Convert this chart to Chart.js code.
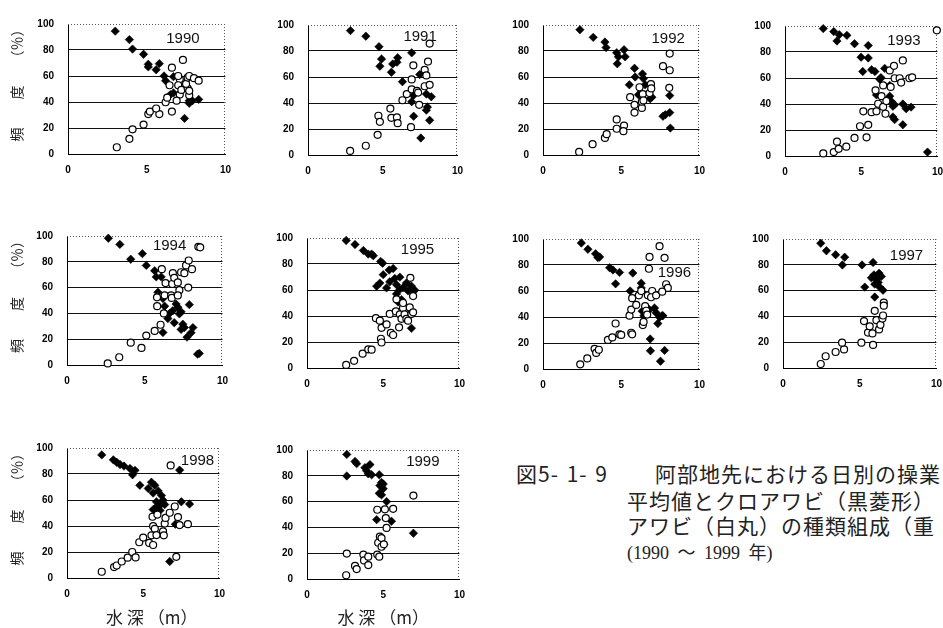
<!DOCTYPE html>
<html lang="ja">
<head>
<meta charset="utf-8">
<title>阿部地先における水深別のアワビ種類組成</title>
<script src="https://cdn.jsdelivr.net/npm/chart.js@4.4.1/dist/chart.umd.min.js"></script>
<style>
  html, body { margin: 0; padding: 0; background: #fff; }
  body { width: 943px; height: 628px; overflow: hidden; position: relative; }
  canvas { position: absolute; }
  .cap { position: absolute; white-space: nowrap; line-height: 1; color: #222;
         font-family: 'Noto Sans CJK JP', sans-serif; font-size: 21px; letter-spacing: 1px; }
  .cap.num { word-spacing: 2px; }
  .cap.yr { font-family: 'Liberation Serif', 'Noto Sans CJK JP', serif; font-size: 18px;
            letter-spacing: 0; word-spacing: 4px; }
</style>
</head>
<body>
<div class="cap num" style="left:516px; top:463px;">図5- 1- 9</div>
<div class="cap" style="left:655px; top:463px;">阿部地先における日別の操業</div>
<div class="cap" style="left:627px; top:490px;">平均値とクロアワビ（黒菱形）</div>
<div class="cap" style="left:627px; top:515px;">アワビ（白丸）の種類組成（重</div>
<div class="cap yr" style="left:627px; top:544px;">(1990 ～ 1999 年)</div>

<script>
// ---- data: [水深 (m), 頻度 (%)] per year ----
const years = ['1990', '1991', '1992', '1993', '1994', '1995', '1996', '1997', '1998', '1999'];
const xTicks = [0, 5, 10];
const yTicks = [0, 20, 40, 60, 80, 100];

// クロアワビ (black diamonds)
const kuro1990 = [[3.0,94.5],[3.9,88],[4.1,80.7],[4.8,76.7],[5.1,69],[5.1,67],[5.8,69.5],[5.6,64.8],[6.1,60],[6.2,56.4],[6.7,59.5],[6.5,45.7],[6.7,47],[7.4,27.4],[7.7,39],[7.9,41],[8.3,42],[7.7,41]];
const kuro1991 = [[2.84,95.7],[3.87,91.4],[4.75,83.3],[4.92,73.8],[4.81,68.3],[5.58,63.6],[5.67,70],[5.95,71.4],[6.0,74.8],[6.94,78.6],[6.32,56.4],[6.94,41],[7.05,45.7],[7.48,61.9],[7.07,29.8],[7.55,13.1],[7.92,46.9],[7.99,36.9],[7.92,34.5],[8.14,26.7],[8.25,44.8]];
const kuro1992 = [[2.36,96.4],[3.21,90.5],[3.96,86.9],[4.03,82.6],[4.71,78.6],[4.82,75.5],[4.75,70.2],[5.18,81],[5.25,75.5],[5.85,66.7],[5.89,60],[5.52,54],[6.36,62.4],[6.42,58.8],[6.1,46.4],[6.85,43.3],[6.96,44.5],[7.67,29.8],[7.82,31],[8.1,32.6],[8.1,45.7],[8.14,20.7],[6.53,54]];
const kuro1993 = [[2.51,98],[3.2,95.7],[3.41,88.5],[3.56,93.3],[4.06,92.8],[4.56,86.4],[5.46,85],[4.99,76],[5.46,75.4],[5.1,65],[5.68,66.3],[5.9,65],[6.54,67.4],[6.29,60.3],[6.22,59],[6.0,47],[6.87,54.3],[6.87,46],[6.98,42],[7.08,38.3],[7.19,39.5],[7.08,30],[7.19,28],[7.73,40],[7.95,36.4],[8.27,37.6],[7.73,24],[9.35,3]];
const kuro1994 = [[2.66,98.3],[3.4,93.5],[4.1,82],[4.85,86.3],[5.1,77.2],[5.64,73.1],[5.74,68.3],[6.06,68.3],[5.85,56.4],[6.17,51.6],[6.28,45.6],[6.17,25.2],[6.49,36],[6.6,40],[6.8,42],[6.9,32.8],[7.13,44.8],[7.23,39.6],[7.34,41.2],[7.02,47.2],[7.45,31.6],[7.34,27.6],[7.55,29],[7.87,46.8],[7.72,21.6],[7.98,25],[8.1,29],[8.4,8.4],[8.51,9]];
const kuro1995 = [[2.57,98.1],[3.15,95],[3.7,90.4],[4.02,87.6],[4.24,87.6],[4.35,86.4],[4.83,82],[4.96,80.6],[5.0,71.8],[5.39,75.4],[5.65,76.5],[4.57,62.9],[4.78,65.3],[5.22,61.6],[5.43,66.3],[5.76,68.9],[5.87,64.1],[6.09,60.5],[6.09,69.9],[6.3,61.7],[6.52,65.3],[6.63,59.3],[6.85,63],[6.96,59.8],[7.07,59.8],[5.87,57],[6.2,52.6],[5.98,50.7],[6.85,30.6]];
const kuro1996 = [[2.45,96.9],[2.87,92.1],[3.36,88.6],[3.51,85.7],[3.62,86.2],[4.26,77.9],[4.47,76.2],[4.89,74.3],[5.74,73.8],[4.64,65.5],[5.57,60],[6.28,66],[6.28,62.4],[6.34,44.5],[6.45,41],[6.81,45.7],[7.13,46.9],[7.23,43.3],[7.45,39.8],[7.62,41],[7.34,35],[7.66,41],[6.85,23.1],[6.87,14],[7.77,14.3],[7.51,6]];
const kuro1997 = [[2.46,96.7],[2.83,90.9],[3.43,87.8],[4.02,85.9],[3.87,79.9],[5.15,79.9],[5.87,81.8],[5.33,62.7],[5.76,69.9],[5.93,72.2],[6.09,68.7],[6.26,73.4],[6.2,66.3],[6.41,71],[5.98,55],[6.3,62.7],[6.52,60.3],[5.98,65]];
const kuro1998 = [[2.28,94.7],[3.04,90.9],[3.26,89],[3.48,87.3],[3.74,86.1],[4.13,84.2],[4.3,79.4],[4.46,82.8],[4.78,71.3],[5.33,68.9],[5.54,73.7],[5.76,71.3],[5.65,65.3],[5.98,67],[6.2,63.4],[5.87,58.6],[5.65,52.6],[6.3,59.8],[6.41,56.5],[7.39,83],[7.5,58.6],[8.04,56.9],[7.11,41.4],[6.74,12.7],[5.9,55],[6.1,52],[6.2,57]];
const kuro1999 = [[2.61,96.6],[3.15,91.1],[3.26,89.4],[2.61,79.9],[3.8,86.3],[3.91,83.9],[4.02,81.5],[4.13,88.7],[4.24,80.8],[4.74,80.8],[4.78,72.4],[4.89,74.8],[5.0,73.6],[4.74,66.4],[4.89,65.2],[5.22,60],[4.57,46],[5.54,44.8],[6.98,35.5],[5.0,70],[5.05,27]];

// 白丸 (open circles)
const shiro1990 = [[3.1,5.2],[3.9,11.7],[4.1,19],[4.8,22.6],[5.1,30.7],[5.2,32.6],[5.8,30.7],[5.6,35],[6.2,39.8],[6.3,43.3],[6.6,32.6],[6.6,66.4],[7.3,72.4],[7.1,57.6],[7.0,52.9],[7.1,45.7],[6.9,41],[7.2,49.3],[7.6,50.5],[7.7,45.2],[7.5,54],[7.6,58.8],[7.7,60],[8.0,58.3],[8.3,56.4],[7.0,60],[7.7,48.6],[6.45,52.9]];
const shiro1991 = [[2.82,3.1],[3.87,7.1],[4.66,15.5],[4.71,30.2],[4.81,25.5],[5.51,35.7],[5.58,28.6],[5.95,29],[6.0,24.5],[6.32,42.1],[6.61,46.9],[6.94,50.5],[6.94,58.1],[7.05,69],[6.89,21.4],[7.29,49.3],[7.44,38.6],[8.14,85.7],[8.03,71.9],[7.81,65.5],[7.92,61.2],[7.81,52.9],[8.14,54],[7.37,48]];
const shiro1992 = [[2.31,2.4],[3.17,8.3],[3.96,13.1],[4.07,16],[4.71,27.4],[4.71,20.2],[5.18,22.6],[5.14,18.3],[5.57,44.5],[5.85,38.6],[5.85,32.6],[6.17,52.1],[6.32,36.2],[6.32,41],[6.38,46.9],[6.42,42],[6.9,54.5],[6.81,47.6],[6.92,51.2],[7.67,68.3],[8.1,78],[8.1,65.2],[8.07,51.7]];
const shiro1993 = [[2.51,2],[3.2,3],[3.41,11],[3.52,5.5],[4.02,7.2],[4.56,13.9],[4.92,22.9],[5.46,24],[5.35,14.4],[5.14,34.4],[5.68,33.7],[6.0,34.4],[6.11,40.2],[6.44,37.8],[6.59,32.5],[5.94,50.5],[6.33,46],[6.44,54.3],[6.65,42.3],[6.93,53.1],[6.87,65.8],[7.15,69.4],[7.19,59.8],[7.52,59.8],[7.73,73.5],[7.62,56.5],[8.16,59.8],[8.34,60.5],[9.96,96.7]];
const shiro1994 = [[2.62,1.2],[3.36,6],[4.1,17.3],[4.79,13.2],[5.1,22.8],[5.64,26.4],[5.79,52.5],[5.8,45.6],[6.02,31.2],[6.1,74.3],[6.23,40],[6.28,54],[6.34,63.5],[6.7,54],[6.74,52],[6.77,62.8],[6.81,71.2],[6.9,67.6],[7.13,64],[7.23,58],[7.13,53.9],[7.34,71.9],[7.55,71.2],[7.66,77.2],[7.83,81],[7.8,60],[8.04,74.3],[8.45,91.6],[8.57,91.2]];
const shiro1995 = [[2.57,2.4],[3.09,5.5],[3.65,11],[4.02,14.4],[4.24,14.1],[4.52,38.3],[4.78,36.4],[4.89,30.9],[4.85,22.5],[4.89,19.6],[5.22,33.5],[5.43,41.6],[5.5,27],[5.65,25.4],[5.87,52.8],[5.83,43.5],[6.09,41.3],[6.04,31.3],[6.2,37.8],[6.3,46.2],[6.3,50],[6.4,41.3],[6.52,37.8],[6.78,69.4],[6.74,46.6],[6.85,41.6],[6.96,42.8],[6.63,36.4],[6.96,55.3]];
const shiro1996 = [[2.38,3.6],[2.83,8.1],[3.3,15.5],[3.4,12.4],[3.57,14.8],[4.15,22.4],[4.43,24.3],[4.64,35],[4.89,26.7],[5.0,26.2],[5.64,27.9],[5.7,26.7],[5.53,41],[5.64,45.7],[5.7,54.5],[5.96,49.3],[6.13,56.7],[6.28,60],[6.38,33.8],[6.43,36.2],[6.53,48.3],[6.6,44.8],[6.7,56.7],[6.66,41.9],[6.81,86.2],[6.77,77.1],[6.98,60],[6.91,55.2],[7.23,56.7],[7.45,94.5],[7.77,85.5],[7.87,65.2],[7.98,62.4],[7.62,59.5]];
const shiro1997 = [[2.46,3.1],[2.78,9.1],[3.43,12.4],[3.98,14.4],[3.85,19.6],[5.11,19.6],[5.28,36.4],[5.54,27.5],[5.65,32.3],[5.83,26.8],[5.87,17.9],[5.98,44.3],[6.09,37.1],[6.26,29.9],[6.35,33.5],[6.48,38.3],[6.57,50.7],[6.57,48.3],[6.52,40.7]];
const shiro1998 = [[2.28,4.8],[3.09,8.4],[3.26,9.6],[3.59,12.7],[3.98,15.6],[4.28,20],[4.5,15.8],[4.74,27.5],[5.0,31.1],[5.39,27],[5.65,25.4],[5.54,32.8],[5.65,39.9],[5.76,37.8],[5.61,47.1],[5.93,48.8],[5.87,33],[6.3,35.9],[6.35,32.8],[6.41,41.9],[6.46,46.2],[6.74,50.2],[6.8,86.6],[7.07,55],[7.28,46.9],[7.39,40.7],[7.93,41.4],[7.17,16.3]];
const shiro1999 = [[2.57,2.9],[2.61,19.7],[3.15,10.1],[3.26,7.7],[3.7,18.9],[3.74,14.4],[4.02,17.3],[4.02,10.8],[4.61,18.9],[4.74,17.3],[4.61,53.7],[4.67,28.1],[4.78,32.9],[4.89,31.7],[4.89,25],[5.04,26.9],[5.11,54],[5.17,47.2],[5.22,39.6],[5.65,54.4],[6.98,64.7]];

const kuroSeries  = [kuro1990, kuro1991, kuro1992, kuro1993, kuro1994, kuro1995, kuro1996, kuro1997, kuro1998, kuro1999];
const shiroSeries = [shiro1990, shiro1991, shiro1992, shiro1993, shiro1994, shiro1995, shiro1996, shiro1997, shiro1998, shiro1999];

// ---- layout: plot areas [left, right, top, bottom] in page pixels ----
const plotBoxes = [
  [68, 226, 14, 154], [308, 458, 15, 155], [543, 700, 15, 155], [785, 938, 16, 156],
  [67, 223, 226, 365], [307, 460, 228, 368], [543, 700, 229, 369], [783, 937, 229, 368],
  [67, 220, 438, 578], [307, 460, 440, 579]
];
// where each year tag sits, in axis units (depth, %)
const yearTagAt = [[7.3, 88.6], [7.5, 91], [8.0, 89], [7.8, 88.6], [6.6, 92], [7.25, 91], [8.4, 73.6], [8.05, 87], [8.56, 90], [7.6, 90.6]];
const yTitleText = '　頻　　度　　（％）';
const xTitleText = { 8: '　水 深 （m）', 9: '水 深 （m）' };

const tickFont = { family: "'Liberation Sans', Arial, sans-serif", size: 10, weight: 'bold' };

// dotted top and right edges of each plot frame
const framePlugin = {
  id: 'frame',
  beforeDatasetsDraw(chart) {
    const { ctx, chartArea: a } = chart;
    ctx.save();
    ctx.strokeStyle = '#555';
    ctx.lineWidth = 1;
    ctx.setLineDash([1, 2]);
    ctx.beginPath();
    ctx.moveTo(a.left, Math.round(a.top) + 0.5);
    ctx.lineTo(a.right, Math.round(a.top) + 0.5);
    ctx.moveTo(Math.round(a.right) - 0.5, a.top);
    ctx.lineTo(Math.round(a.right) - 0.5, a.bottom);
    ctx.stroke();
    ctx.restore();
  }
};

// year tag inside each plot
const yearTagPlugin = {
  id: 'yearTag',
  afterDatasetsDraw(chart, args, opts) {
    const { ctx, scales } = chart;
    ctx.save();
    ctx.font = "15px 'Liberation Sans', Arial, sans-serif";
    ctx.fillStyle = '#111';
    ctx.textAlign = 'center';
    ctx.textBaseline = 'middle';
    ctx.fillText(opts.text, scales.x.getPixelForValue(opts.at[0]), scales.y.getPixelForValue(opts.at[1]));
    ctx.restore();
  }
};

years.forEach((year, i) => {
  const [l, r, t, b] = plotBoxes[i];
  const firstCol = i % 4 === 0;
  const bottomRow = i >= 8;
  const axW = firstCol ? l : 50;
  const padTop = 10, padRight = 15;
  const axH = bottomRow ? 628 - b : 28;

  const canvas = document.createElement('canvas');
  canvas.width = axW + (r - l) + padRight;
  canvas.height = padTop + (b - t) + axH;
  canvas.style.left = (l - axW) + 'px';
  canvas.style.top = (t - padTop) + 'px';
  document.body.appendChild(canvas);

  const toPts = arr => arr.map(([x, y]) => ({ x, y }));

  new Chart(canvas, {
    type: 'scatter',
    data: {
      datasets: [
        {
          label: 'その他アワビ',
          data: toPts(shiroSeries[i]),
          pointStyle: 'circle',
          pointRadius: 3.5,
          pointBackgroundColor: '#fff',
          pointBorderColor: '#000',
          pointBorderWidth: 1.2,
          clip: false,
          order: 0
        },
        {
          label: 'クロアワビ',
          data: toPts(kuroSeries[i]),
          pointStyle: 'rectRot',
          pointRadius: 4.2,
          pointBackgroundColor: '#000',
          pointBorderColor: '#000',
          pointBorderWidth: 0.6,
          clip: false,
          order: 1
        }
      ]
    },
    options: {
      responsive: false,
      animation: false,
      devicePixelRatio: 1,
      events: [],
      layout: { padding: { left: 0, top: padTop, right: padRight, bottom: 0 } },
      plugins: {
        legend: { display: false },
        tooltip: { enabled: false },
        yearTag: { text: year, at: yearTagAt[i] }
      },
      scales: {
        x: {
          type: 'linear', min: 0, max: 10,
          afterBuildTicks: s => { s.ticks = xTicks.map(v => ({ value: v })); },
          afterFit: s => { s.height = axH; },
          grid: { display: false, drawTicks: false },
          border: { display: true, color: '#000', width: 1 },
          ticks: { font: tickFont, color: '#000', padding: 10, maxRotation: 0 },
          title: {
            display: bottomRow, text: xTitleText[i] || '', color: '#222',
            font: { family: "'Noto Sans CJK JP', sans-serif", size: 17 },
            padding: { top: 0, bottom: 0 }
          }
        },
        y: {
          type: 'linear', min: 0, max: 100,
          afterBuildTicks: s => { s.ticks = yTicks.map(v => ({ value: v })); },
          afterFit: s => { s.width = axW; },
          grid: {
            drawTicks: false,
            lineWidth: 1,
            color: c => (c.tick && (c.tick.value === 0 || c.tick.value === 100)) ? 'rgba(0,0,0,0)' : '#111'
          },
          border: { display: true, color: '#000', width: 1 },
          ticks: { font: tickFont, color: '#000', padding: 14 },
          title: {
            display: firstCol, text: yTitleText, color: '#222',
            font: { family: "'Noto Sans CJK JP', sans-serif", size: 14 },
            padding: { top: 8, bottom: 0 }
          }
        }
      }
    },
    plugins: [framePlugin, yearTagPlugin]
  });
});
</script>
</body>
</html>
